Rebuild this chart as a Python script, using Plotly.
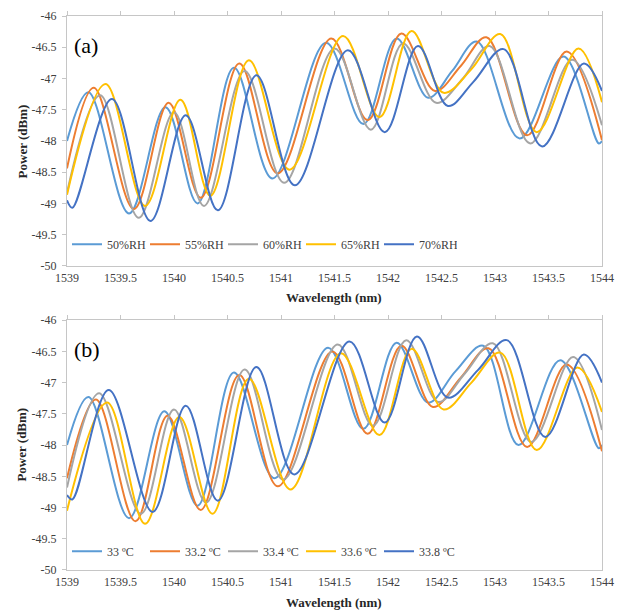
import plotly.graph_objects as go

# ---------------- data ----------------
series_a_names = ["50%RH", "55%RH", "60%RH", "65%RH", "70%RH"]
series_b_names = ["33 ºC", "33.2 ºC", "33.4 ºC", "33.6 ºC", "33.8 ºC"]
colors = ["#5B9BD5", "#ED7D31", "#A5A5A5", "#FFC000", "#4472C4"]

# Panel (a) humidity
rh50_x = [1539.00, 1539.20, 1539.58, 1539.92, 1540.22, 1540.56, 1540.92, 1541.42, 1541.77, 1542.08, 1542.375, 1542.60, 1542.83, 1543.23, 1543.64, 1543.97, 1544.00]
rh50_y = [-48.00, -47.22, -49.16, -47.46, -49.00, -46.83, -48.60, -46.43, -47.73, -46.36, -47.31, -46.88, -46.41, -47.96, -46.65, -48.04, -48.00]
rh55_x = [1539.00, 1539.25, 1539.625, 1539.95, 1540.25, 1540.61, 1540.97, 1541.47, 1541.81, 1542.125, 1542.44, 1542.68, 1542.92, 1543.30, 1543.67, 1544.00]
rh55_y = [-48.44, -47.15, -49.09, -47.39, -48.91, -46.76, -48.52, -46.36, -47.67, -46.28, -47.20, -46.80, -46.34, -47.91, -46.57, -47.99]
rh60_x = [1539.00, 1539.31, 1539.67, 1540.00, 1540.28, 1540.66, 1541.03, 1541.50, 1541.84, 1542.14, 1542.45, 1542.70, 1542.95, 1543.33, 1543.72, 1544.00]
rh60_y = [-48.83, -47.27, -49.23, -47.54, -49.04, -46.88, -48.67, -46.52, -47.82, -46.44, -47.39, -47.00, -46.48, -48.04, -46.70, -47.75]
rh65_x = [1539.00, 1539.36, 1539.73, 1540.06, 1540.34, 1540.70, 1541.08, 1541.58, 1541.92, 1542.22, 1542.52, 1542.78, 1543.05, 1543.39, 1543.78, 1544.00]
rh65_y = [-48.86, -47.09, -49.04, -47.34, -48.88, -46.71, -48.46, -46.32, -47.62, -46.24, -47.23, -46.85, -46.29, -47.86, -46.52, -47.38]
rh70_x = [1539.00, 1539.05, 1539.42, 1539.78, 1540.11, 1540.41, 1540.77, 1541.13, 1541.625, 1541.97, 1542.28, 1542.56, 1542.80, 1543.08, 1543.44, 1543.83, 1544.00]
rh70_y = [-48.95, -49.07, -47.33, -49.28, -47.59, -49.11, -46.95, -48.71, -46.55, -47.86, -46.48, -47.44, -47.05, -46.53, -48.09, -46.76, -47.20]

# Panel (b) temperature
t330_x = [1539.00, 1539.20, 1539.58, 1539.91, 1540.22, 1540.56, 1540.94, 1541.44, 1541.77, 1542.08, 1542.375, 1542.63, 1542.89, 1543.22, 1543.61, 1543.97, 1544.00]
t330_y = [-48.00, -47.23, -49.17, -47.46, -48.97, -46.84, -48.53, -46.44, -47.74, -46.36, -47.32, -46.82, -46.41, -48.00, -46.64, -48.05, -48.00]
t332_x = [1539.00, 1539.27, 1539.64, 1539.94, 1540.25, 1540.61, 1540.97, 1541.48, 1541.81, 1542.125, 1542.42, 1542.68, 1542.94, 1543.30, 1543.67, 1544.00]
t332_y = [-48.53, -47.27, -49.22, -47.53, -49.04, -46.88, -48.66, -46.50, -47.82, -46.41, -47.39, -46.92, -46.45, -48.03, -46.71, -48.10]
t334_x = [1539.00, 1539.30, 1539.69, 1540.00, 1540.30, 1540.66, 1541.02, 1541.53, 1541.86, 1542.17, 1542.47, 1542.72, 1542.98, 1543.34, 1543.73, 1544.00]
t334_y = [-48.68, -47.17, -49.10, -47.43, -48.92, -46.79, -48.55, -46.39, -47.69, -46.32, -47.31, -46.85, -46.37, -47.95, -46.59, -47.76]
t336_x = [1539.00, 1539.375, 1539.73, 1540.05, 1540.36, 1540.70, 1541.09, 1541.56, 1541.92, 1542.22, 1542.52, 1542.78, 1543.05, 1543.39, 1543.77, 1544.00]
t336_y = [-49.05, -47.32, -49.26, -47.55, -49.10, -46.94, -48.71, -46.53, -47.84, -46.46, -47.43, -47.00, -46.52, -48.08, -46.76, -47.47]
t338_x = [1539.00, 1539.05, 1539.39, 1539.80, 1540.11, 1540.41, 1540.77, 1541.125, 1541.64, 1541.97, 1542.27, 1542.56, 1542.84, 1543.11, 1543.47, 1543.83, 1544.00]
t338_y = [-48.80, -48.87, -47.12, -49.07, -47.37, -48.89, -46.75, -48.47, -46.34, -47.64, -46.26, -47.24, -46.80, -46.32, -47.87, -46.55, -47.00]

x_ticks = [1539, 1539.5, 1540, 1540.5, 1541, 1541.5, 1542, 1542.5, 1543, 1543.5, 1544]
x_tick_labels = ["1539", "1539.5", "1540", "1540.5", "1541", "1541.5", "1542", "1542.5", "1543", "1543.5", "1544"]
y_ticks = [-50, -49.5, -49, -48.5, -48, -47.5, -47, -46.5, -46]
y_tick_labels = ["-50", "-49.5", "-49", "-48.5", "-48", "-47.5", "-47", "-46.5", "-46"]

panel_a = [(rh50_x, rh50_y), (rh55_x, rh55_y), (rh60_x, rh60_y), (rh65_x, rh65_y), (rh70_x, rh70_y)]
panel_b = [(t330_x, t330_y), (t332_x, t332_y), (t334_x, t334_y), (t336_x, t336_y), (t338_x, t338_y)]

SERIF = "Liberation Serif"
FRAME = "#C6C6C6"
TXT = "#404040"

fig = go.Figure()
for (xs, ys), name, c in zip(panel_a, series_a_names, colors):
    fig.add_trace(go.Scatter(x=xs, y=ys, name=name, mode="lines",
                             line=dict(color=c, width=2, shape="spline", smoothing=1.0),
                             xaxis="x", yaxis="y", legend="legend"))
for (xs, ys), name, c in zip(panel_b, series_b_names, colors):
    fig.add_trace(go.Scatter(x=xs, y=ys, name=name, mode="lines",
                             line=dict(color=c, width=2, shape="spline", smoothing=1.0),
                             xaxis="x2", yaxis="y2", legend="legend2"))
# empty traces so the top tick axes are drawn
fig.add_trace(go.Scatter(x=[], y=[], xaxis="x3", yaxis="y", showlegend=False))
fig.add_trace(go.Scatter(x=[], y=[], xaxis="x4", yaxis="y2", showlegend=False))

dom_a = [0.549, 1.0]
dom_b = [0.0, 0.451]

xcommon = dict(range=[1539, 1544], tickvals=x_ticks, ticktext=x_tick_labels,
               showgrid=False, zeroline=False, showline=True, linecolor=FRAME, linewidth=1,
               mirror=True, ticks="", tickfont=dict(family=SERIF, size=12, color=TXT),
               ticklabelstandoff=1)
ycommon = dict(range=[-50, -46], tickvals=y_ticks, ticktext=y_tick_labels,
               showgrid=False, zeroline=False, showline=True, linecolor=FRAME, linewidth=1,
               mirror=True, ticks="outside", ticklen=4, tickcolor=FRAME,
               tickfont=dict(family=SERIF, size=12, color=TXT), ticklabelstandoff=3)
xtop = dict(range=[1539, 1544], tickvals=x_ticks, showticklabels=False, showgrid=False,
            zeroline=False, showline=False, side="top", ticks="outside", ticklen=4,
            tickcolor=FRAME)

legend_common = dict(orientation="h", xanchor="left", yanchor="middle",
                     bgcolor="rgba(0,0,0,0)", font=dict(family=SERIF, size=12, color=TXT),
                     itemwidth=30, entrywidth=33, entrywidthmode="pixels", tracegroupgap=0)

fig.update_layout(
    width=624, height=613,
    margin=dict(l=67, r=22, t=9, b=43),
    paper_bgcolor="white", plot_bgcolor="white",
    xaxis=dict(**xcommon, domain=[0, 1], anchor="y"),
    yaxis=dict(**ycommon, domain=dom_a, anchor="x"),
    xaxis2=dict(**xcommon, domain=[0, 1], anchor="y2"),
    yaxis2=dict(**ycommon, domain=dom_b, anchor="x2"),
    xaxis3=dict(**xtop, overlaying="x", anchor="y"),
    xaxis4=dict(**xtop, overlaying="x2", anchor="y2"),
    legend=dict(**legend_common, x=0.0, y=0.588),
    legend2=dict(**legend_common, x=0.0, y=0.034),
    showlegend=True,
)

annots = [
    dict(text="(a)", x=72, y=39, font_size=22),
    dict(text="(b)", x=72, y=347, font_size=22),
]
for a in annots:
    fig.add_annotation(text=a["text"], xref="paper", yref="paper",
                       x=(a["x"] - 67) / 535, y=(570 - a["y"]) / 561,
                       xanchor="left", yanchor="middle", showarrow=False,
                       font=dict(family=SERIF, size=a["font_size"], color="black"))
for ypx in (294, 603):
    fig.add_annotation(text="<b>Wavelength (nm)</b>", xref="paper", yref="paper",
                       x=(334 - 67) / 535, y=(570 - ypx) / 561, xanchor="center", yanchor="middle",
                       showarrow=False, font=dict(family=SERIF, size=13, color="#262626"))
for ypx in (136, 443):
    fig.add_annotation(text="<b>Power (dBm)</b>", xref="paper", yref="paper",
                       x=(22 - 67) / 535, y=(570 - ypx) / 561, xanchor="center", yanchor="middle",
                       textangle=-90, showarrow=False, font=dict(family=SERIF, size=13, color="#262626"))

fig.write_html("out.html")
